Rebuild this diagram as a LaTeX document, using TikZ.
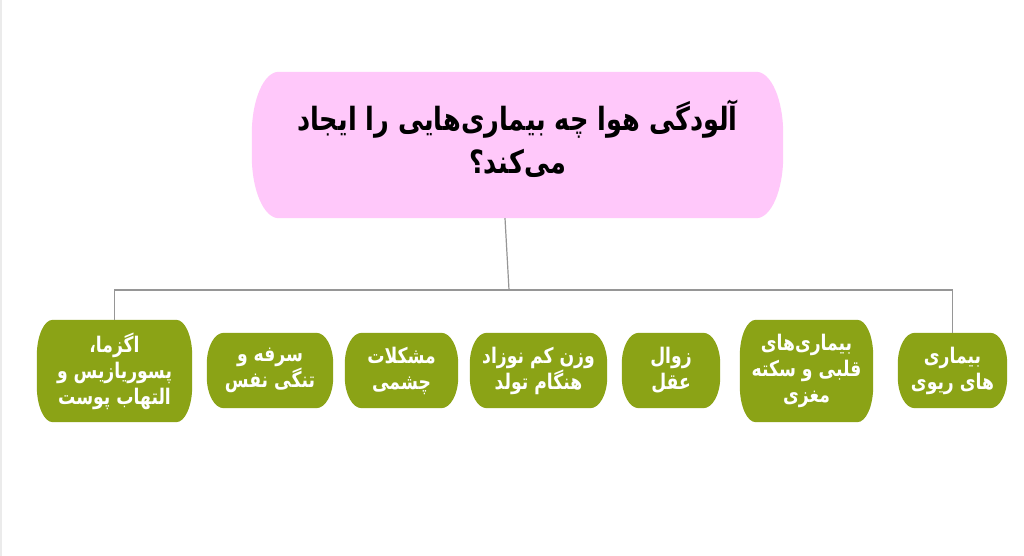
\documentclass[tikz,border=0pt]{standalone}
\usepackage{fontspec}
\newfontfamily\fafont[Script=Arabic, FakeStretch=0.8]{DejaVu Sans}
\TeXXeTstate=1
\newcommand\fa[1]{\beginR #1\endR}
\definecolor{pinkbox}{RGB}{255,200,250}
\definecolor{olive}{RGB}{139,163,22}
\definecolor{linegray}{RGB}{150,150,150}
\pgfdeclarelayer{background}
\pgfsetlayers{background,main}
\newcommand\blobfill[4]{%
  \fill[#4] ([xshift=#2]#1.north west) -- ([xshift=-#2]#1.north east)
    arc[start angle=90,end angle=0,x radius=#2,y radius=#3]
    -- ([yshift=#3]#1.south east)
    arc[start angle=0,end angle=-90,x radius=#2,y radius=#3]
    -- ([xshift=#2]#1.south west)
    arc[start angle=270,end angle=180,x radius=#2,y radius=#3]
    -- ([yshift=-#3]#1.north west)
    arc[start angle=180,end angle=90,x radius=#2,y radius=#3] -- cycle;}
\begin{document}
\begin{tikzpicture}[x=1pt,y=1pt,
  title/.style={font=\fafont\bfseries\fontsize{32}{43}\selectfont, text=black, align=center, inner sep=0pt},
  leaf/.style={font=\fafont\bfseries\fontsize{21.5}{26}\selectfont, text=white, align=center, inner sep=0pt},
  conn/.style={draw=linegray, line width=1.2pt}]
\useasboundingbox (0,0) rectangle (1024,-556);
% nodes
\node[minimum width=531pt, minimum height=146pt, inner sep=0pt] (T) at (517.5,-145) {};
\node[title] (Tt) at (517.5,-139)
  {\fa{آلودگی هوا چه بیماری‌هایی را ایجاد}\\\fa{می‌کند؟}};
\node[leaf, minimum width=155pt, minimum height=102pt] (A) at (114.5,-371)
  {\fa{اگزما،}\\\fa{پسوریازیس و}\\\fa{التهاب پوست}};
\node[leaf, minimum width=126pt, minimum height=75pt] (B) at (270,-370.5)
  {\fa{سرفه و}\\\fa{تنگی نفس}};
\node[leaf, minimum width=113pt, minimum height=75pt] (C) at (401.5,-370.5)
  {\fa{مشکلات}\\\fa{چشمی}};
\node[leaf, minimum width=137pt, minimum height=75pt] (D) at (538.5,-370.5)
  {\fa{وزن کم نوزاد}\\\fa{هنگام تولد}};
\node[leaf, minimum width=98pt, minimum height=75pt] (E) at (671,-370.5)
  {\fa{زوال}\\\fa{عقل}};
\node[leaf, minimum width=133pt, minimum height=102pt] (F) at (806.5,-371)
  {\fa{بیماری‌های}\\\fa{قلبی و سکته}\\\fa{مغزی}};
\node[leaf, minimum width=109pt, minimum height=75pt] (G) at (952.5,-370.5)
  {\fa{بیماری}\\\fa{های ریوی}};
\coordinate (j) at (509,-290);
% connectors
\draw[conn] ([xshift=-12.5pt]T.south) -- (j);
\draw[conn] (A.north) -- (A.north |- j) -- (G.north |- j) -- (G.north);
% backgrounds
\begin{pgfonlayer}{background}
  \fill[white] (0,0) rectangle (1024,-556);
  \draw[black!8, line width=1.5pt] (1,0) -- (1,-556);
  \blobfill{T}{27pt}{62pt}{pinkbox}
  \blobfill{A}{16pt}{36pt}{olive}
  \blobfill{B}{17pt}{31pt}{olive}
  \blobfill{C}{17pt}{31pt}{olive}
  \blobfill{D}{17pt}{31pt}{olive}
  \blobfill{E}{17pt}{31pt}{olive}
  \blobfill{F}{16pt}{36pt}{olive}
  \blobfill{G}{17pt}{31pt}{olive}
\end{pgfonlayer}
\end{tikzpicture}
\end{document}
